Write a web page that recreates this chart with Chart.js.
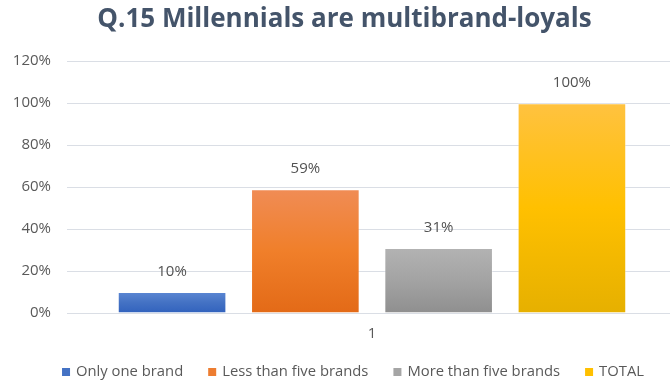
<!DOCTYPE html>
<html>
<head>
<meta charset="utf-8">
<script src="https://cdn.jsdelivr.net/npm/chart.js@4/dist/chart.umd.min.js"></script>
<style>
  html, body { margin: 0; padding: 0; background: #fff; overflow: hidden; }
  #wrap { position: relative; width: 670px; height: 382px; overflow: hidden; }
</style>
</head>
<body>
<div id="wrap"><canvas id="chart" width="680" height="382"></canvas></div>
<script>
const categories = ['1'];
const seriesNames = ['Only one brand', 'Less than five brands', 'More than five brands', 'TOTAL'];
const seriesValues = [[10], [59], [31], [100]];
const yTickValues = [0, 20, 40, 60, 80, 100, 120];

// flat colour (legend) + top/mid/bottom gradient stops for each bar
const palette = [
  { solid: '#4472c4', stops: ['#5b87d3', '#4472c4', '#3162bd'] },
  { solid: '#ed7d31', stops: ['#f08c55', '#f07f2a', '#e36a17'] },
  { solid: '#a5a5a5', stops: ['#b3b3b3', '#a3a3a3', '#8f8f8f'] },
  { solid: '#ffc000', stops: ['#ffc240', '#ffc000', '#e6b000'] },
];

const font = '"Open Sans", Lato, sans-serif';

function barFill(i) {
  return (ctx) => {
    const chart = ctx.chart;
    const y = chart.scales && chart.scales.y;
    if (!y || ctx.raw == null || ctx.type !== 'data') return palette[i].solid;
    const top = y.getPixelForValue(ctx.raw);
    const base = y.getPixelForValue(0);
    if (!isFinite(top) || !isFinite(base) || top === base) return palette[i].solid;
    const g = chart.ctx.createLinearGradient(0, top, 0, base);
    g.addColorStop(0, palette[i].stops[0]);
    g.addColorStop(0.5, palette[i].stops[1]);
    g.addColorStop(1, palette[i].stops[2]);
    return g;
  };
}

// value labels above each bar
const valueLabels = {
  id: 'valueLabels',
  afterDatasetsDraw(chart) {
    const ctx = chart.ctx;
    ctx.save();
    ctx.font = '15px ' + font;
    ctx.fillStyle = '#525252';
    ctx.textAlign = 'center';
    ctx.textBaseline = 'middle';
    chart.data.datasets.forEach((ds, i) => {
      const meta = chart.getDatasetMeta(i);
      meta.data.forEach((bar, j) => {
        ctx.fillText(ds.data[j] + '%', bar.x, bar.y - 20);
      });
    });
    ctx.restore();
  }
};

// single-row legend along the bottom, wide gaps but tight vertically
const bottomLegend = {
  id: 'bottomLegend',
  afterDraw(chart) {
    const ctx = chart.ctx;
    const box = 8, gap = 6, spacing = 25, y = 372;
    ctx.save();
    ctx.font = '14.8px ' + font;
    ctx.textBaseline = 'middle';
    const items = chart.data.datasets.map((ds, i) => ({
      text: ds.label,
      color: palette[i].solid,
      w: box + gap + ctx.measureText(ds.label).width,
    }));
    const total = items.reduce((s, it) => s + it.w, 0) + spacing * (items.length - 1);
    let x = 353 - total / 2;
    items.forEach((it) => {
      ctx.fillStyle = it.color;
      ctx.fillRect(x, y - box / 2, box, box);
      ctx.fillStyle = '#595959';
      ctx.fillText(it.text, x + box + gap, y);
      x += it.w + spacing;
    });
    ctx.restore();
  }
};

new Chart(document.getElementById('chart'), {
  type: 'bar',
  data: {
    labels: categories,
    datasets: seriesNames.map((name, i) => ({
      label: name,
      data: seriesValues[i],
      backgroundColor: barFill(i),
      borderColor: 'rgba(255,255,255,0.35)',
      borderWidth: 1,
      categoryPercentage: 0.874,
      barPercentage: 0.815,
    })),
  },
  options: {
    responsive: false,
    animation: false,
    devicePixelRatio: 1,
    layout: { padding: { left: 12, right: 3, top: 4, bottom: 27 } },
    plugins: {
      title: {
        display: true,
        text: 'Q.15 Millennials are multibrand-loyals',
        color: '#44546a',
        font: { family: font, size: 26, weight: 'bold' },
        padding: { top: 0, bottom: 26 },
      },
      legend: { display: false },
      tooltip: { enabled: false },
    },
    scales: {
      x: {
        grid: { display: false, drawTicks: false },
        border: { display: false },
        ticks: { color: '#595959', font: { family: font, size: 15 }, padding: 12 },
      },
      y: {
        min: 0,
        max: 120,
        afterBuildTicks: (axis) => { axis.ticks = yTickValues.map(v => ({ value: v })); },
        afterFit: (axis) => { axis.width = 55; },
        grid: { color: '#dadee5', drawTicks: false },
        border: { display: false },
        ticks: {
          color: '#595959',
          font: { family: font, size: 15 },
          padding: 16,
          callback: (v) => v + '%',
        },
      },
    },
  },
  plugins: [valueLabels, bottomLegend],
});
</script>
</body>
</html>
